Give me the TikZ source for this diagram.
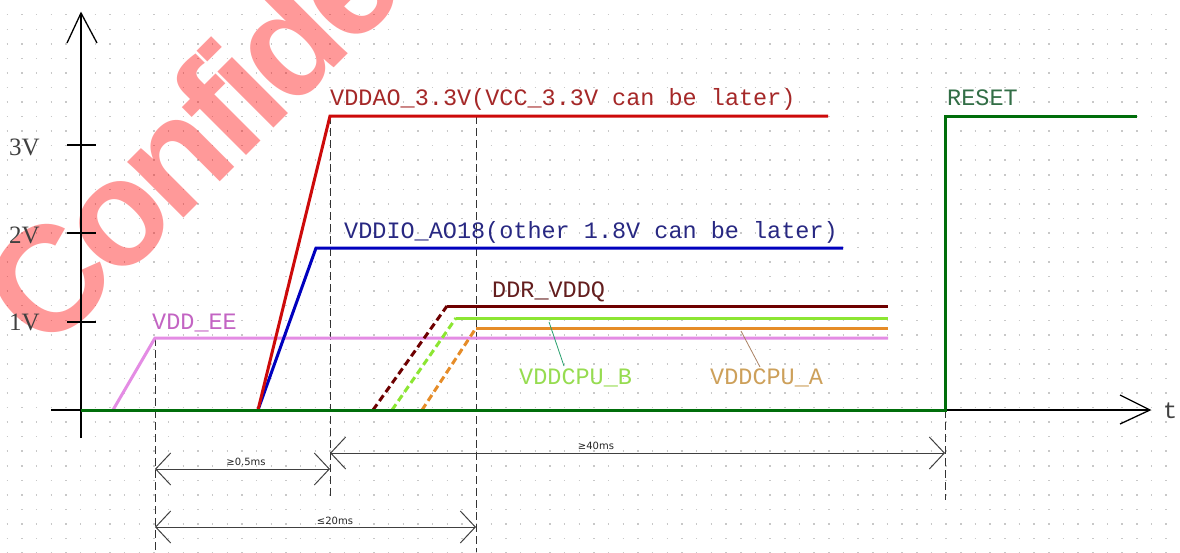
\documentclass[tikz,border=0pt]{standalone}
\usepackage{fontspec}
\newfontfamily\monof{Liberation Mono}
\newfontfamily\seriff{Liberation Serif}
\newfontfamily\dejav{DejaVu Sans}
\newfontfamily\wmfont[LetterSpace=-5]{Liberation Sans}
\usetikzlibrary{arrows.meta}
\definecolor{cRed}{RGB}{205,10,10}
\definecolor{cRedT}{RGB}{165,40,40}
\definecolor{cBlue}{RGB}{0,0,190}
\definecolor{cBlueT}{RGB}{40,40,130}
\definecolor{cGreen}{RGB}{0,110,10}
\definecolor{cGreenT}{RGB}{50,110,70}
\definecolor{cViol}{RGB}{228,140,228}
\definecolor{cViolT}{RGB}{195,100,195}
\definecolor{cDDR}{RGB}{110,0,0}
\definecolor{cDDRT}{RGB}{100,30,30}
\definecolor{cLime}{RGB}{140,230,50}
\definecolor{cLimeT}{RGB}{150,220,80}
\definecolor{cOrg}{RGB}{230,140,40}
\definecolor{cOrgT}{RGB}{205,160,90}
\definecolor{cLeadB}{RGB}{40,160,110}
\definecolor{cLeadA}{RGB}{170,130,100}
\definecolor{gridc}{RGB}{200,200,200}
\tikzset{
  sig/.style={line width=3pt, line join=miter},
  sigdash/.style={line width=3pt, dash pattern=on 7pt off 4pt},
  lab/.style={font=\monof\fontsize{23.5}{26}\selectfont, inner sep=0pt, anchor=base west},
  axlab/.style={font=\seriff\fontsize{25}{28}\selectfont, inner sep=0pt, anchor=base west, text=black!75},
  dimlab/.style={font=\dejav\fontsize{10}{12}\selectfont, inner sep=0pt, anchor=base, text=black!85},
  guide/.style={line width=1pt, dash pattern=on 8pt off 4pt, black!80},
  dimarrow/.style={line width=1pt, black!75, {Straight Barb[length=15pt,width=32pt]}-{Straight Barb[length=15pt,width=32pt]}},
  axisline/.style={line width=1.3pt, black},
  griddot/.style={line width=1.5pt, gridc, dash pattern=on 1.5pt off 13.17pt},
  leader/.style={line width=0.8pt}
}
\begin{document}
\begin{tikzpicture}[x=1pt,y=-1pt]
\useasboundingbox (0,0) rectangle (1180,552);
\clip (0,0) rectangle (1180,552);
\fill[white] (0,0) rectangle (1180,552);
% dotted grid
\foreach \r in {0,...,37} {
  \draw[griddot] (6.5,{14.7+\r*14.55}) -- (1180,{14.7+\r*14.55});
}
% watermark
\node[font=\wmfont\bfseries\fontsize{150}{156}\selectfont, text=red, text opacity=0.4,
      rotate=45, anchor=base west, inner sep=0pt] (wm) at (46,356) {Confidential};
% axes
\coordinate (yb) at (81,438);
\coordinate (yt) at (81,13);
\coordinate (xl) at (51,410);
\coordinate (xr) at (1150,410);
\draw[axisline] (yb) -- (yt);
\draw[axisline] (xl) -- (xr);
\draw[axisline] (67,43) -- (yt) -- (97,43);
\draw[axisline] (1120,395) -- (xr) -- (1120,424);
\draw[axisline] (67,145) -- (96,145);
\draw[axisline] (67,233) -- (96,233);
\draw[axisline] (67,322) -- (96,322);
\node[axlab] (l3) at (9,155) {3V};
\node[axlab] (l2) at (9,243) {2V};
\node[axlab] (l1) at (9,330) {1V};
\node[lab, text=black!75] (lt) at (1163,418) {t};
% guides
\coordinate (g1t) at (155,338);
\coordinate (g1b) at (155,552);
\coordinate (g2t) at (330,116);
\coordinate (g2b) at (330,497);
\coordinate (g3t) at (476,116);
\coordinate (g3b) at (476,552);
\coordinate (g4t) at (945,410);
\coordinate (g4b) at (945,500);
\draw[guide] (g1t) -- (g1b);
\draw[guide] (g2t) -- (g2b);
\draw[guide] (g3t) -- (g3b);
\draw[guide] (g4t) -- (g4b);
% VDD_EE
\draw[sig, cViol] (113,410) -- (155,338) -- (888,338);
\node[lab, text=cViolT] (lee) at (152,329) {VDD\_EE};
% DDR / CPU
\draw[sigdash, cDDR] (373,410) -- (447,306);
\draw[sig, cDDR] (447,306) -- (888,306);
\draw[sigdash, cLime] (392,410) -- (456,318);
\draw[sig, cLime] (456,318) -- (888,318);
\draw[sigdash, cOrg] (422,410) -- (476,328);
\draw[sig, cOrg] (476,328) -- (888,328);
\node[lab, text=cDDRT] (lddr) at (492,297) {DDR\_VDDQ};
\node[lab, text=cLimeT] (lb) at (519,384) {VDDCPU\_B};
\node[lab, text=cOrgT] (la) at (710,384) {VDDCPU\_A};
\coordinate (lbs) at (549,322);
\coordinate (lbe) at (564,366);
\coordinate (las) at (741,331);
\coordinate (lae) at (760,367);
\draw[leader, cLeadB] (lbs) -- (lbe);
\draw[leader, cLeadA] (las) -- (lae);
% red and blue
\draw[sig, cBlue] (258,410) -- (316,248) -- (843,248);
\draw[sig, cRed] (258,410) -- (330,116) -- (828,116);
\node[lab, text=cRedT] (lao) at (330,105) {VDDAO\_3.3V(VCC\_3.3V can be later)};
\node[lab, text=cBlueT] (lio) at (344,238) {VDDIO\_AO18(other 1.8V can be later)};
% reset
\draw[sig, cGreen] (81,410) -- (945,410) -- (945,116) -- (1137,116);
\node[lab, text=cGreenT] (lrs) at (947,105) {RESET};
% dimensions
\coordinate (d1a) at (155,469);
\coordinate (d1b) at (330,469);
\coordinate (d2a) at (330,453);
\coordinate (d2b) at (945,453);
\coordinate (d3a) at (155,527);
\coordinate (d3b) at (476,527);
\draw[dimarrow] (d1a) -- (d1b);
\draw[dimarrow] (d2a) -- (d2b);
\draw[dimarrow] (d3a) -- (d3b);
\node[dimlab] (t1) at (246,465) {≥0.5ms};
\node[dimlab] (t2) at (596,449) {≥40ms};
\node[dimlab] (t3) at (335,524) {≤20ms};
\end{tikzpicture}
\end{document}
